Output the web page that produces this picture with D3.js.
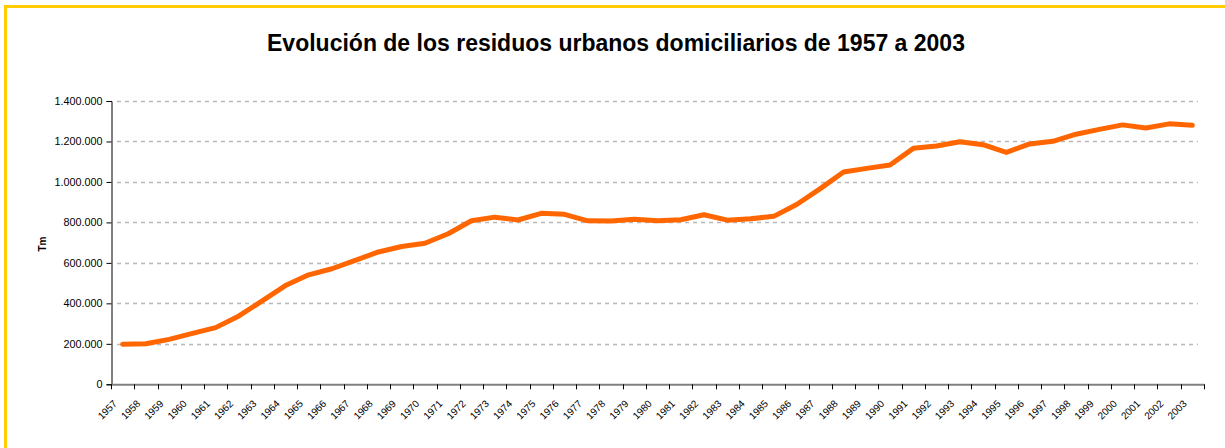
<!DOCTYPE html>
<html><head><meta charset="utf-8">
<script src="https://cdn.jsdelivr.net/npm/d3@7"></script>
<style>body{margin:0;background:#fff}svg{display:block}</style>
</head><body>
<svg id="c" width="1225" height="448"></svg>
<script>
const years = [1957,1958,1959,1960,1961,1962,1963,1964,1965,1966,1967,1968,1969,1970,1971,1972,1973,1974,1975,1976,1977,1978,1979,1980,1981,1982,1983,1984,1985,1986,1987,1988,1989,1990,1991,1992,1993,1994,1995,1996,1997,1998,1999,2000,2001,2002,2003];
const values = [198000,200000,222000,252000,280000,338000,412000,488000,541000,571000,612000,654000,681000,697000,744000,808000,826000,812000,845000,840000,808000,807000,816000,808000,813000,838000,811000,818000,830000,890000,967000,1049000,1067000,1084000,1166000,1178000,1199000,1184000,1146000,1188000,1201000,1236000,1260000,1282000,1267000,1287000,1280000];
const yTicks = [0,200000,400000,600000,800000,1000000,1200000,1400000];
const title = "Evolución de los residuos urbanos domiciliarios de 1957 a 2003";
const yTitle = "Tm";

const svg = d3.select("#c");
svg.append("rect").attr("x",5.5).attr("y",6.5).attr("width",1240).attr("height",460)
  .attr("fill","#fff").attr("stroke","#FFCC00").attr("stroke-width",3);

const L=111, R=1204, T=101, B=384.3;
const x = d3.scaleBand().domain(years).range([L,R]).padding(0);
const y = d3.scaleLinear().domain([0,1400000]).range([B,T]);
const fmt = v => d3.format(",")(v).replace(/,/g,".");
const FF = "Liberation Sans, Arial, sans-serif";

svg.append("text").attr("x",616).attr("y",51).attr("text-anchor","middle")
  .attr("font-family",FF).attr("font-weight","bold")
  .attr("font-size",23).attr("fill","#000").text(title);

// grid
svg.append("g").selectAll("line").data(yTicks.filter(d=>d>0)).join("line")
  .attr("x1",L+6).attr("x2",R-6).attr("y1",d=>Math.round(y(d))+0.5).attr("y2",d=>Math.round(y(d))+0.5)
  .attr("stroke","#b8b8b8").attr("stroke-width",1.5).attr("stroke-dasharray","4,4");

// y axis
const ya = svg.append("g").attr("transform",`translate(${L+0.5},0)`)
  .call(d3.axisLeft(y).tickValues(yTicks).tickFormat(fmt).tickSize(5).tickPadding(4));
ya.select(".domain").attr("stroke","#000");
ya.selectAll(".tick line").attr("stroke","#000");
ya.selectAll("text").attr("font-family",FF).attr("font-size",10.8).attr("fill","#000");

// x axis
const xa = svg.append("g").attr("transform",`translate(0,${B})`)
  .call(d3.axisBottom(x).tickSize(0).tickFormat(""));
xa.select(".domain").attr("stroke","#808080").attr("stroke-width",2);
xa.selectAll(".tick").remove();
svg.append("g").selectAll("line").data(years.concat([null])).join("line")
  .attr("x1",(d,i)=>Math.round(L+i*x.bandwidth())+0.5).attr("x2",(d,i)=>Math.round(L+i*x.bandwidth())+0.5)
  .attr("y1",B).attr("y2",B+5).attr("stroke","#000");
svg.append("g").selectAll("text").data(years).join("text")
  .attr("transform",d=>`translate(${x(d)+x.bandwidth()/2-5},${B+20}) rotate(-45)`)
  .attr("text-anchor","end").attr("font-family",FF)
  .attr("font-size",10).attr("fill","#000").text(d=>d);

svg.append("text").attr("transform","translate(46,244) rotate(-90)").attr("text-anchor","middle")
  .attr("font-family",FF).attr("font-weight","bold").attr("font-size",10).text(yTitle);

const line = d3.line().x((d,i)=>x(years[i])+x.bandwidth()/2).y(d=>y(d));
svg.append("path").datum(values).attr("d",line).attr("fill","none")
  .attr("stroke","#FF6600").attr("stroke-width",5).attr("stroke-linejoin","round").attr("stroke-linecap","round");
</script>
</body></html>
